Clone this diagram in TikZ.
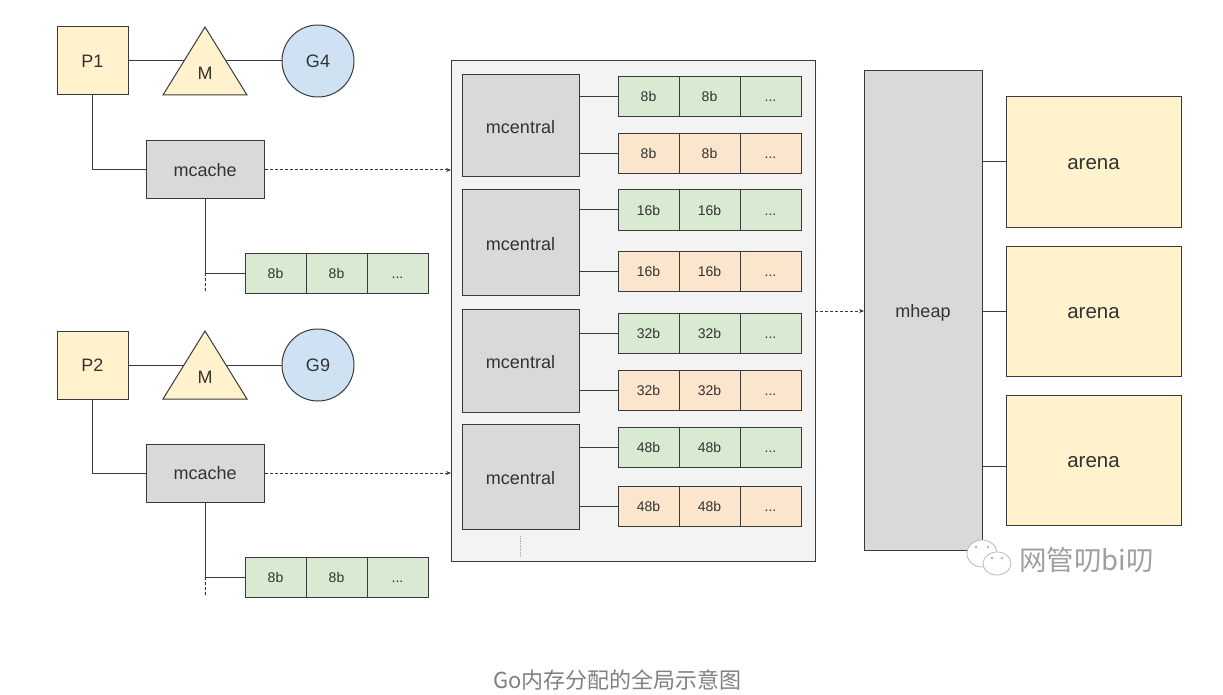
\documentclass[tikz,border=0pt]{standalone}
\usepackage{xcolor}
\usepackage{fontspec}
\setmainfont{Liberation Sans}
\newfontfamily\cjkfont{Noto Sans CJK SC}
\usetikzlibrary{shapes.geometric,arrows.meta}
\definecolor{edgegray}{HTML}{3A3A3A}
\definecolor{textgray}{HTML}{333333}
\definecolor{softyellow}{HTML}{FFF2CC}
\definecolor{softgray}{HTML}{D9D9D9}
\definecolor{softblue}{HTML}{CFE2F3}
\definecolor{softgreen}{HTML}{D9EAD3}
\definecolor{softorange}{HTML}{FCE5CD}
\definecolor{panelgray}{HTML}{F3F3F3}
\tikzset{>=stealth}
\tikzset{
  box/.style={draw=edgegray,line width=1pt,anchor=north west,inner sep=0pt,outer sep=0pt,text=textgray,font=\fontsize{18}{20}\selectfont},
  procbox/.style={box,fill=softyellow,minimum width=71,minimum height=68},
  cachebox/.style={box,fill=softgray,minimum width=118.5,minimum height=58},
  centralbox/.style={box,fill=softgray,minimum width=117,text height=15,text depth=0},
  arenabox/.style={box,fill=softyellow,minimum width=175,minimum height=130,text height=15.5,text depth=0,font=\fontsize{20.5}{22}\selectfont},
  goro/.style={circle,draw=edgegray,line width=1pt,fill=softblue,minimum size=72,inner sep=0pt,outer sep=0pt,text=textgray,font=\fontsize{18}{20}\selectfont},
  machine/.style={isosceles triangle,isosceles triangle stretches,shape border rotate=90,draw=edgegray,line width=1pt,fill=softyellow,minimum width=84,minimum height=68,inner sep=0pt,outer sep=0pt,anchor=apex,text=textgray,text height=10,text depth=0,font=\fontsize{18}{20}\selectfont},
  greencell/.style={box,fill=softgreen,minimum width=61,minimum height=40,text height=10,text depth=0,font=\fontsize{14}{16}\selectfont},
  orangecell/.style={box,fill=softorange,minimum width=61,minimum height=40,text height=10,text depth=0,font=\fontsize{14}{16}\selectfont},
  conn/.style={draw=edgegray,line width=1pt},
  dashconn/.style={conn,densely dashed,-{Stealth[length=5pt,width=4pt]}},
  tailconn/.style={conn,densely dashed}
}

\begin{document}
\begin{tikzpicture}[x=1pt,y=-1pt]
  \useasboundingbox (0,0) rectangle (1223,695);

  % first processor
  \node[procbox] (p1) at (57,27) {P1};
  \node[machine] (m1) at (205,27) {M};
  \node[goro] (g4) at (318,61) {G4};
  \node[cachebox] (mcache1) at (146,141) {mcache};
  \node[greencell] (row1a) at (245,253) {8b};
  \node[greencell] (row1b) at (306,253) {8b};
  \node[greencell] (row1c) at (367,253) {...};
  \coordinate (tail1) at (205.5,292);

  % second processor
  \node[procbox] (p2) at (57,331) {P2};
  \node[machine] (m2) at (205,331) {M};
  \node[goro] (g9) at (318,365) {G9};
  \node[cachebox] (mcache2) at (146,444) {mcache};
  \node[greencell] (row2a) at (245,557) {8b};
  \node[greencell] (row2b) at (306,557) {8b};
  \node[greencell] (row2c) at (367,557) {...};
  \coordinate (tail2) at (205.5,596);

  % mcentral panel
  \node[box,fill=panelgray,minimum width=364,minimum height=500] (panel) at (451,61) {};
  \node[centralbox,minimum height=102] (central1) at (462,75) {mcentral};
  \node[centralbox,minimum height=105] (central2) at (462,190) {mcentral};
  \node[centralbox,minimum height=103] (central3) at (462,309) {mcentral};
  \node[centralbox,minimum height=105] (central4) at (462,424) {mcentral};

  \node[greencell] (c1a) at (618,77) {8b};
  \node[greencell] (c1b) at (679,77) {8b};
  \node[greencell] (c1c) at (740,77) {...};
  \node[orangecell] (d1a) at (618,134) {8b};
  \node[orangecell] (d1b) at (679,134) {8b};
  \node[orangecell] (d1c) at (740,134) {...};
  \node[greencell] (c2a) at (618,190) {16b};
  \node[greencell] (c2b) at (679,190) {16b};
  \node[greencell] (c2c) at (740,190) {...};
  \node[orangecell] (d2a) at (618,251) {16b};
  \node[orangecell] (d2b) at (679,251) {16b};
  \node[orangecell] (d2c) at (740,251) {...};
  \node[greencell] (c3a) at (618,313) {32b};
  \node[greencell] (c3b) at (679,313) {32b};
  \node[greencell] (c3c) at (740,313) {...};
  \node[orangecell] (d3a) at (618,370) {32b};
  \node[orangecell] (d3b) at (679,370) {32b};
  \node[orangecell] (d3c) at (740,370) {...};
  \node[greencell] (c4a) at (618,427) {48b};
  \node[greencell] (c4b) at (679,427) {48b};
  \node[greencell] (c4c) at (740,427) {...};
  \node[orangecell] (d4a) at (618,486) {48b};
  \node[orangecell] (d4b) at (679,486) {48b};
  \node[orangecell] (d4c) at (740,486) {...};
  \coordinate (more1) at (520.5,536);
  \coordinate (more2) at (520.5,556);

  % mheap and arenas
  \node[box,fill=softgray,minimum width=118,minimum height=479,text height=13,text depth=0] (mheap) at (864,71) {mheap};
  \node[arenabox] (arena1) at (1006,97) {arena};
  \node[arenabox] (arena2) at (1006,246) {arena};
  \node[arenabox] (arena3) at (1006,395) {arena};

  % connectors
  \draw[conn] (p1.east) -- (m1.left side);
  \draw[conn] (m1.right side) -- (g4.west);
  \draw[conn] (p1.south) |- (mcache1.west);
  \draw[conn] (mcache1.south) |- (row1a.west);
  \draw[tailconn] (mcache1.south |- row1a.west) -- (tail1);
  \draw[dashconn] (mcache1.east) -- (mcache1.east -| panel.west);

  \draw[conn] (p2.east) -- (m2.left side);
  \draw[conn] (m2.right side) -- (g9.west);
  \draw[conn] (p2.south) |- (mcache2.west);
  \draw[conn] (mcache2.south) |- (row2a.west);
  \draw[tailconn] (mcache2.south |- row2a.west) -- (tail2);
  \draw[dashconn] (mcache2.east) -- (mcache2.east -| panel.west);

  \draw[conn] (c1a.west -| central1.east) -- (c1a.west);
  \draw[conn] (d1a.west -| central1.east) -- (d1a.west);
  \draw[conn] (c2a.west -| central2.east) -- (c2a.west);
  \draw[conn] (d2a.west -| central2.east) -- (d2a.west);
  \draw[conn] (c3a.west -| central3.east) -- (c3a.west);
  \draw[conn] (d3a.west -| central3.east) -- (d3a.west);
  \draw[conn] (c4a.west -| central4.east) -- (c4a.west);
  \draw[conn] (d4a.west -| central4.east) -- (d4a.west);
  \draw[gray!70,line width=.8pt,densely dotted] (more1) -- (more2);

  \draw[dashconn] (panel.east) -- (panel.east -| mheap.west);
  \draw[conn] (arena1.west -| mheap.east) -- (arena1.west);
  \draw[conn] (arena2.west -| mheap.east) -- (arena2.west);
  \draw[conn] ([yshift=-6pt]arena3.west -| mheap.east) -- ([yshift=-6pt]arena3.west);

  % watermark
  \draw[gray!60,fill=white,line width=.7pt] (982,553.5) ellipse (15 and 13.5);
  \draw[gray!60,fill=white,line width=.7pt] (997,563.5) ellipse (14 and 11.5);
  \fill[gray!60] (976,547) circle (1.3) (988,547) circle (1.3) (992,558) circle (1.3) (1002,558) circle (1.3);
  \node[anchor=west,inner sep=0pt,text=gray!75,font=\cjkfont\fontsize{27.5}{30}\selectfont] (mark) at (1019,560) {网管叨bi叨};

  % caption
  \node[inner sep=0pt,text=black!50,font=\cjkfont\fontsize{22}{24}\selectfont] (caption) at (617.5,680) {Go内存分配的全局示意图};
\end{tikzpicture}
\end{document}
